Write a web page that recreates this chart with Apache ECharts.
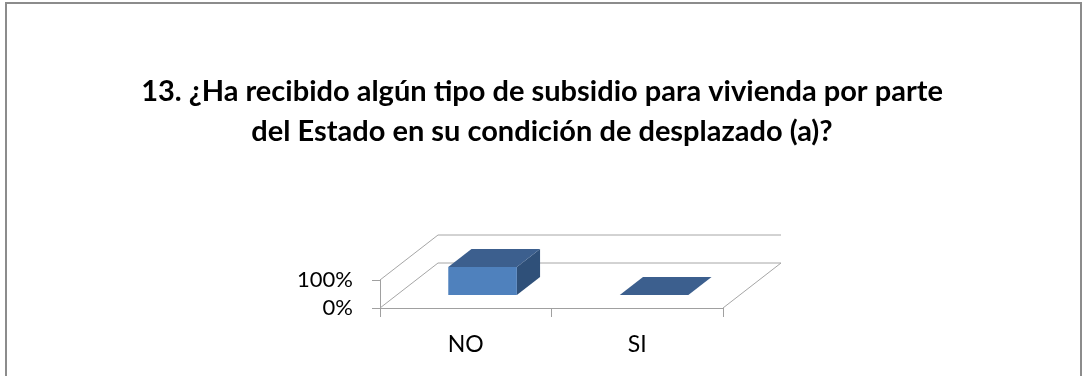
<!DOCTYPE html>
<html>
<head>
<meta charset="utf-8">
<script src="https://cdn.jsdelivr.net/npm/echarts@6/dist/echarts.min.js"></script>
<style>html,body{margin:0;padding:0;background:#fff;}#c{width:1084px;height:376px;}</style>
</head>
<body>
<div id="c"></div>
<script>
const titleText = '13. ¿Ha recibido algún tipo de subsidio para vivienda por parte\ndel Estado en su condición de desplazado (a)?';
const categories = ['NO', 'SI'];
const values = [1, 0];
const yTickValues = [0, 1];
const yTickLabels = ['0%', '100%'];

const DX = 58, DY = -45;           // depth offset of the 3D floor
const F0 = 0.29, F1 = 0.69;        // bar front/back depth fractions
const FONT = 'Lato';

const chart = echarts.init(document.getElementById('c'), null, {renderer: 'canvas'});

function frameItem(params, api) {
  const cs = params.coordSys;
  const x = cs.x, w = cs.width;
  const col = '#A6A6A6';
  const children = [];
  const ln = (a, b) => children.push({type: 'line', shape: {x1: a[0], y1: a[1], x2: b[0], y2: b[1]}, style: {stroke: col, lineWidth: 1}});
  yTickValues.forEach(v => {
    const y = api.coord([0, v])[1];
    ln([x, y], [x + DX, y + DY]);
    ln([x + DX, y + DY], [x + w + DX, y + DY]);
  });
  const y0 = api.coord([0, 0])[1];
  ln([x + w, y0], [x + w + DX, y0 + DY]);
  return {type: 'group', children};
}

function barItem(params, api) {
  const i = api.value(0), v = api.value(1);
  const base = api.coord([i, 0]);
  const top = api.coord([i, v]);
  const bw = api.size([1, 0])[0] * 0.4;
  const x0 = base[0] - bw / 2 + DX * F0, x1 = x0 + bw;
  const yb = base[1] + DY * F0, yt = top[1] + DY * F0;
  const ddx = DX * (F1 - F0), ddy = DY * (F1 - F0);
  const children = [];
  if (yb - yt > 0.5) {
    children.push({type: 'polygon', shape: {points: [[x1, yb], [x1 + ddx, yb + ddy], [x1 + ddx, yt + ddy], [x1, yt]]}, style: {fill: '#2F5079'}});
    children.push({type: 'polygon', shape: {points: [[x0, yb], [x1, yb], [x1, yt], [x0, yt]]}, style: {fill: '#4F81BD'}});
  }
  children.push({type: 'polygon', shape: {points: [[x0, yt], [x1, yt], [x1 + ddx, yt + ddy], [x0 + ddx, yt + ddy]]}, style: {fill: '#3C5F8E'}});
  return {type: 'group', children};
}

chart.setOption({
  animation: false,
  backgroundColor: '#fff',
  title: {
    text: titleText,
    left: 'center',
    top: 67,
    textStyle: {fontFamily: FONT, fontWeight: 'bold', fontSize: 29, lineHeight: 40, color: '#000'}
  },
  graphic: [{
    type: 'rect', shape: {x: 6, y: 3, width: 1075, height: 390},
    style: {fill: 'none', stroke: '#8C8C8C', lineWidth: 2}, silent: true
  }],
  grid: {left: 380, right: 361, top: 280, bottom: 68, containLabel: false},
  xAxis: {
    type: 'category', data: categories, boundaryGap: true,
    axisLine: {lineStyle: {color: '#A0A0A0'}},
    axisTick: {show: true, length: 9, lineStyle: {color: '#A0A0A0'}},
    axisLabel: {fontFamily: FONT, fontSize: 23, color: '#000', margin: 25}
  },
  yAxis: {
    type: 'value', min: 0, max: 1, interval: 1,
    axisLine: {show: true, lineStyle: {color: '#A0A0A0'}},
    axisTick: {show: true, length: 8, lineStyle: {color: '#A0A0A0'}},
    splitLine: {show: false},
    axisLabel: {
      fontFamily: FONT, fontSize: 22, color: '#000', margin: 27,
      formatter: (val) => yTickLabels[yTickValues.indexOf(val)],
      padding: [4, 0, 0, 0]
    }
  },
  series: [
    {type: 'custom', renderItem: frameItem, data: [[0, 0]], clip: false, silent: true, z: 1},
    {type: 'custom', renderItem: barItem, data: categories.map((c, i) => [i, values[i]]), clip: false, z: 3}
  ]
});
</script>
</body>
</html>
